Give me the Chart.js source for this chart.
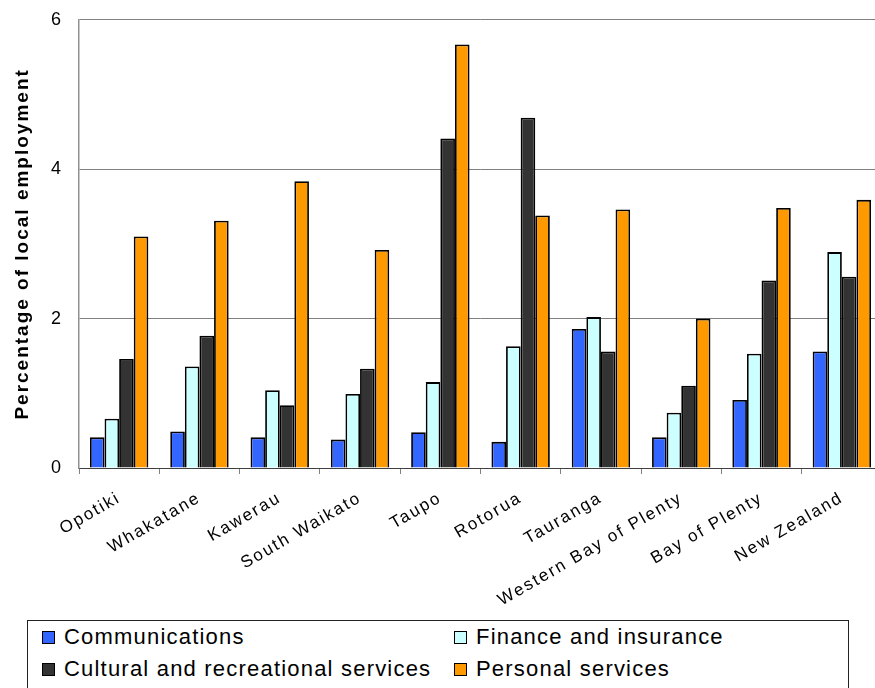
<!DOCTYPE html>
<html>
<head>
<meta charset="utf-8">
<script src="https://cdn.jsdelivr.net/npm/chart.js@4/dist/chart.umd.min.js"></script>
<style>
  html, body { margin: 0; padding: 0; background: #fff; overflow: hidden; }
  body { width: 875px; height: 688px; position: relative; font-family: "Liberation Sans", Arial, sans-serif; }
  #wrap { position: absolute; left: 0; top: -7px; width: 885px; height: 619px; }
  #legend {
    position: absolute; left: 27px; top: 620px; width: 822px; height: 90px;
    border: 1px solid #222; box-sizing: border-box;
    display: grid; grid-template-columns: 413px 1fr; grid-auto-rows: 32px;
    font-size: 22px; letter-spacing: 1.2px; color: #000;
  }
  .item { display: flex; align-items: center; padding-left: 14px; }
  .item:nth-child(2n) { padding-left: 13px; }
  .box { width: 11px; height: 11px; border: 1px solid #000; margin-right: 9px; flex: none; }
</style>
</head>
<body>
<div id="wrap"><canvas id="chart"></canvas></div>
<div id="legend"></div>
<script>
// --- Data ---
const areas = ['Opotiki', 'Whakatane', 'Kawerau', 'South Waikato', 'Taupo', 'Rotorua',
  'Tauranga', 'Western Bay of Plenty', 'Bay of Plenty', 'New Zealand'];

const seriesNames = ['Communications', 'Finance and insurance',
  'Cultural and recreational services', 'Personal services'];
const seriesColors = ['#3366FF', '#CCFFFF', '#333333', '#FF9900'];

const communications = [0.41, 0.49, 0.41, 0.38, 0.48, 0.35, 1.86, 0.41, 0.91, 1.56];
const finance        = [0.66, 1.36, 1.04, 0.99, 1.15, 1.63, 2.02, 0.74, 1.53, 2.89];
const cultural       = [1.46, 1.77, 0.84, 1.33, 4.41, 4.69, 1.56, 1.10, 2.51, 2.56];
const personal       = [3.10, 3.31, 3.84, 2.92, 5.67, 3.38, 3.46, 2.00, 3.48, 3.59];

const yTicks = [0, 2, 4, 6];

const FONT = '"Liberation Sans", Arial, sans-serif';
const CANVAS_H = 619;
const PLOT_BOTTOM = 475;

// wider character spacing for all canvas text
const spacing = {
  id: 'spacing',
  beforeUpdate(chart) { chart.ctx.letterSpacing = '2px'; },
  beforeDraw(chart) { chart.ctx.letterSpacing = '2px'; }
};

const values = [communications, finance, cultural, personal];
const datasets = values.map((data, i) => ({
  label: seriesNames[i],
  data,
  backgroundColor: seriesColors[i],
  borderColor: '#000',
  borderWidth: 1.8,
  categoryPercentage: 4 / 5.5,
  barPercentage: 1
}));

new Chart(document.getElementById('chart'), {
  type: 'bar',
  data: { labels: areas, datasets },
  plugins: [spacing],
  options: {
    responsive: true,
    maintainAspectRatio: false,
    animation: false,
    layout: { padding: { top: 13, right: 3, left: 0, bottom: 0 } },
    plugins: { legend: { display: false }, tooltip: { enabled: false } },
    scales: {
      x: {
        grid: { drawOnChartArea: false, drawTicks: true, tickLength: 6, color: '#808080', offset: true },
        border: { color: '#404040', width: 1 },
        ticks: {
          color: '#000', font: { family: FONT, size: 17 },
          minRotation: 30, maxRotation: 30, padding: 14, autoSkip: false
        },
        afterFit: s => { s.height = CANVAS_H - PLOT_BOTTOM; }
      },
      y: {
        min: 0, max: 6,
        afterBuildTicks: s => { s.ticks = yTicks.map(v => ({ value: v })); },
        grid: { color: '#808080', drawTicks: false },
        border: { color: '#909090', width: 1.5 },
        ticks: { color: '#000', font: { family: FONT, size: 18 }, padding: 16 },
        title: {
          display: true, text: 'Percentage of local employment', color: '#000',
          font: { family: FONT, size: 19, weight: 'bold' }, padding: { top: 11, bottom: 0 }
        },
        afterFit: s => { s.width = 79; }
      }
    }
  }
});

// legend below the chart, two columns
const legend = document.getElementById('legend');
seriesNames.forEach((name, i) => {
  const item = document.createElement('div');
  item.className = 'item';
  item.innerHTML = `<span class="box" style="background:${seriesColors[i]}"></span><span>${name}</span>`;
  legend.appendChild(item);
});
</script>
</body>
</html>
